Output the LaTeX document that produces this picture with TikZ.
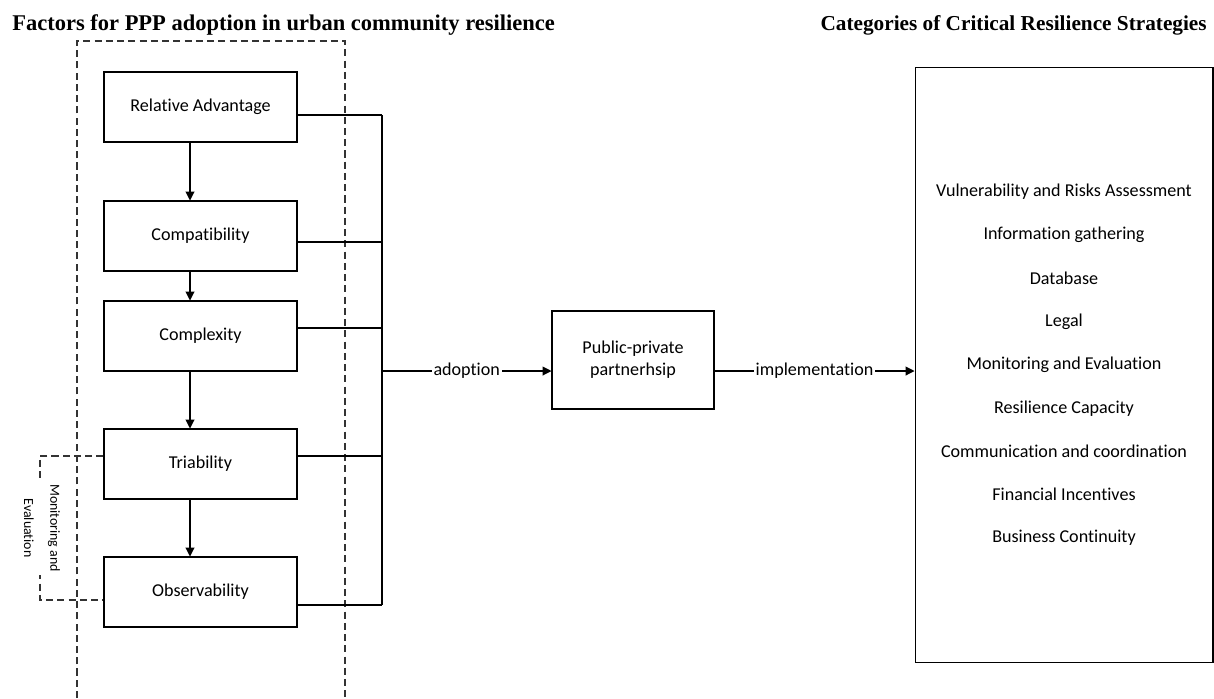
\documentclass[tikz,border=0pt]{standalone}
\usepackage{fontspec}
\setmainfont{Carlito}[Ligatures=NoCommon]
\newfontfamily\headfont{Liberation Serif}
\usetikzlibrary{arrows.meta, positioning, calc}

\begin{document}
\begin{tikzpicture}[
  x=0.02cm, y=-0.02cm,
  every node/.style={font=\fontsize{10.3}{12.4}\selectfont},
  factor/.style={rectangle, draw, line width=0.6pt, minimum width=3.86cm, minimum height=1.4cm, align=center},
  headtxt/.style={font=\headfont\bfseries\fontsize{12.8}{15}\selectfont, inner sep=0pt},
  link/.style={line width=0.6pt},
  arr/.style={line width=0.6pt, -{Triangle[length=5pt, width=5pt]}},
  dashline/.style={line width=0.6pt, black!80, dash pattern=on 4pt off 2.4pt},
  lbl/.style={fill=white, inner sep=1pt},
]
\useasboundingbox (0,0) rectangle (1214,698);

% Titles
\node[headtxt, anchor=west] (lhead) at (12,25) {Factors for PPP adoption in urban community resilience};
\node[headtxt, anchor=east, font=\headfont\bfseries\fontsize{12.1}{15}\selectfont] (rhead) at (1207,25) {Categories of Critical Resilience Strategies};

% Dashed frame round the factors
\draw[dashline] (77,698) -- (77,41) -- (345,41) -- (345,698);

% Factors
\node[factor] (ra) at (200.5,107) {Relative Advantage};
\node[factor] (cp) at (200.5,236) {Compatibility};
\node[factor] (cx) at (200.5,336) {Complexity};
\node[factor] (tr) at (200.5,464) {Triability};
\node[factor] (ob) at (200.5,592) {Observability};

\draw[arr] ([xshift=-0.21cm]ra.south) -- ([xshift=-0.21cm]cp.north);
\draw[arr] ([xshift=-0.21cm]cp.south) -- ([xshift=-0.21cm]cx.north);
\draw[arr] ([xshift=-0.21cm]cx.south) -- ([xshift=-0.21cm]tr.north);
\draw[arr] ([xshift=-0.21cm]tr.south) -- ([xshift=-0.21cm]ob.north);

% Monitoring bracket
\coordinate (bt) at (40,456);
\coordinate (bb) at (40,600);
\draw[dashline] (tr.west |- bt) -- (bt) -- (bb) -- (ob.west |- bb);
\node[font=\fontsize{7.9}{9}\selectfont, rotate=-90, align=center, fill=white, inner sep=2pt] (melbl) at (42,528) {Monitoring and\\[6pt]Evaluation};

% PPP and strategies
\node[rectangle, draw, line width=0.6pt, minimum width=3.24cm, minimum height=1.96cm, align=center] (ppp) at (633,360) {Public-private\\partnerhsip};
\node[rectangle, draw, line width=0.6pt, minimum width=5.96cm, minimum height=11.92cm] (strat) at (1064,365) {};
\foreach \s [count=\i from 0] in {Vulnerability and Risks Assessment, Information gathering, Database, Legal, Monitoring and Evaluation, Resilience Capacity, Communication and coordination, Financial Incentives, Business Continuity}
  \node (s\i) at (1064, 192+43.25*\i) {\s};

% Connections
\coordinate (bus) at (382,371);
\foreach \b/\yy in {ra/115, cp/242, cx/328, tr/456, ob/605}
  \draw[link] (\b.east |- 0,\yy) -- (bus |- 0,\yy);
\draw[link] (bus |- 0,115) -- (bus |- 0,605);
\draw[arr] (bus) -- node[lbl] {adoption} (ppp.west |- bus);
\draw[arr] (ppp.east |- bus) -- node[lbl] {implementation} (strat.west |- bus);

\end{tikzpicture}
\end{document}
